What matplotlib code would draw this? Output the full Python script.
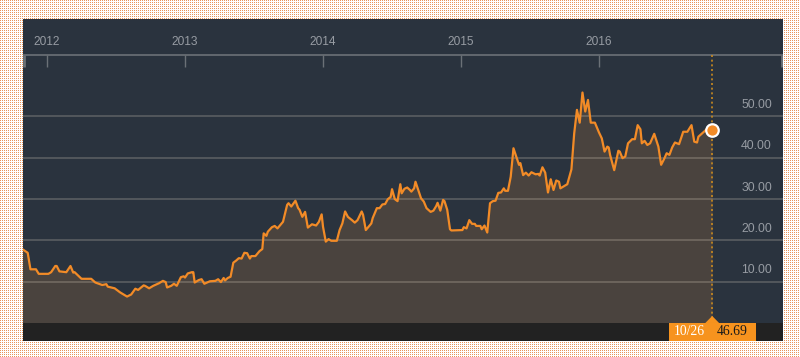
import numpy as np
import matplotlib
matplotlib.use("Agg")
import matplotlib.pyplot as plt
from matplotlib import transforms
from matplotlib.patches import Rectangle, Polygon

# ---- data (decimal years, price) ----
years = [2011.82, 2011.86, 2011.88, 2011.92, 2011.94, 2012.01, 2012.03, 2012.06, 2012.07, 2012.09,
         2012.14, 2012.17, 2012.19, 2012.20, 2012.25, 2012.31, 2012.32, 2012.35, 2012.40, 2012.43,
         2012.44, 2012.49, 2012.53, 2012.58, 2012.61, 2012.64, 2012.66, 2012.70, 2012.71, 2012.74,
         2012.77, 2012.81, 2012.84, 2012.86, 2012.87, 2012.90, 2012.92, 2012.94, 2012.97, 2012.99,
         2013.00, 2013.02, 2013.05, 2013.06, 2013.07, 2013.10, 2013.12, 2013.14, 2013.18, 2013.22,
         2013.24, 2013.26, 2013.28, 2013.29, 2013.31, 2013.33, 2013.35, 2013.37, 2013.39, 2013.41,
         2013.43, 2013.45, 2013.47, 2013.48, 2013.51, 2013.54, 2013.56, 2013.57, 2013.59, 2013.60,
         2013.63, 2013.65, 2013.67, 2013.71, 2013.74, 2013.75, 2013.77, 2013.80, 2013.82, 2013.83,
         2013.85, 2013.87, 2013.89, 2013.92, 2013.95, 2013.97, 2013.99, 2014.00, 2014.02, 2014.04,
         2014.06, 2014.10, 2014.12, 2014.14, 2014.16, 2014.18, 2014.21, 2014.23, 2014.25, 2014.28,
         2014.29, 2014.31, 2014.35, 2014.36, 2014.39, 2014.41, 2014.43, 2014.45, 2014.47, 2014.49,
         2014.50, 2014.52, 2014.54, 2014.56, 2014.57, 2014.59, 2014.61, 2014.63, 2014.64, 2014.66,
         2014.67, 2014.69, 2014.71, 2014.73, 2014.75, 2014.78, 2014.80, 2014.82, 2014.83, 2014.85,
         2014.87, 2014.88, 2014.90, 2014.92, 2014.93, 2015.01, 2015.02, 2015.04, 2015.06, 2015.08,
         2015.10, 2015.11, 2015.14, 2015.15, 2015.17, 2015.19, 2015.21, 2015.23, 2015.25, 2015.27,
         2015.29, 2015.31, 2015.32, 2015.34, 2015.36, 2015.38, 2015.40, 2015.42, 2015.43, 2015.45,
         2015.47, 2015.49, 2015.51, 2015.54, 2015.56, 2015.57, 2015.59, 2015.61, 2015.63, 2015.65,
         2015.67, 2015.69, 2015.71, 2015.72, 2015.75, 2015.77, 2015.80, 2015.82, 2015.84, 2015.86,
         2015.88, 2015.90, 2015.92, 2015.94, 2015.97, 2016.00, 2016.02, 2016.04, 2016.06, 2016.07,
         2016.08, 2016.11, 2016.14, 2016.15, 2016.17, 2016.19, 2016.21, 2016.24, 2016.26, 2016.28,
         2016.30, 2016.31, 2016.33, 2016.35, 2016.37, 2016.40, 2016.43, 2016.45, 2016.47, 2016.49,
         2016.51, 2016.53, 2016.55, 2016.58, 2016.61, 2016.64, 2016.67, 2016.69, 2016.71, 2016.72,
         2016.76, 2016.78, 2016.82]
prices = [17.9, 17.0, 13.0, 13.0, 11.9, 11.9, 12.3, 13.8, 13.8, 12.5,
          12.3, 13.8, 12.2, 12.3, 10.7, 10.7, 10.7, 9.8, 9.2, 9.4,
          8.8, 8.4, 7.4, 6.4, 6.9, 8.3, 8.0, 9.1, 9.0, 8.4,
          9.0, 9.6, 10.2, 9.9, 8.6, 9.0, 9.5, 9.0, 11.1, 11.3,
          11.0, 12.0, 12.3, 12.3, 9.8, 10.4, 10.6, 9.5, 10.1, 10.2,
          10.6, 9.9, 10.9, 10.3, 10.9, 11.2, 14.6, 15.1, 15.7, 15.6,
          17.0, 16.9, 15.6, 16.2, 16.2, 17.4, 17.9, 21.7, 21.1, 22.1,
          23.2, 23.5, 22.9, 24.5, 28.6, 29.0, 28.2, 29.6, 27.8, 27.4,
          25.7, 26.9, 23.1, 23.9, 23.6, 24.5, 26.3, 23.3, 19.7, 20.3,
          19.9, 19.9, 22.5, 24.1, 27.0, 25.7, 24.9, 24.3, 24.9, 27.0,
          26.2, 22.5, 24.1, 25.4, 27.8, 27.8, 28.7, 28.8, 30.0, 30.5,
          32.4, 30.0, 29.5, 33.6, 31.4, 32.5, 32.8, 32.2, 31.8, 32.6,
          34.2, 32.2, 30.2, 29.4, 27.8, 26.9, 27.2, 28.3, 29.1, 27.2,
          29.8, 29.5, 27.4, 22.7, 22.4, 22.5, 23.2, 22.9, 24.9, 24.0,
          24.0, 23.5, 23.5, 22.7, 23.6, 21.9, 29.0, 29.5, 29.6, 31.5,
          31.6, 32.6, 32.0, 32.0, 35.4, 42.3, 40.3, 38.3, 38.7, 35.8,
          36.4, 35.7, 36.5, 36.0, 36.1, 35.7, 37.7, 36.4, 31.6, 34.8,
          32.2, 34.5, 34.2, 32.6, 33.2, 33.6, 37.2, 45.9, 51.6, 48.5,
          55.8, 51.2, 54.0, 48.5, 48.5, 46.1, 44.7, 41.5, 42.7, 42.5,
          40.7, 37.0, 41.7, 41.5, 39.9, 40.3, 43.5, 44.5, 44.5, 47.9,
          46.9, 43.5, 44.1, 43.1, 43.5, 45.8, 42.7, 38.3, 39.6, 41.1,
          40.7, 42.5, 43.7, 43.3, 46.3, 46.3, 47.9, 43.9, 43.7, 45.1,
          46.3, 46.9, 46.69]
year_ticks = [2012, 2013, 2014, 2015, 2016]
year_labels = ["2012", "2013", "2014", "2015", "2016"]
y_ticks = [10, 20, 30, 40, 50]
y_labels = ["10.00", "20.00", "30.00", "40.00", "50.00"]
last_label = "10/26"
last_value_label = "46.69"

# ---- styling ----
W, H, DPI = 800, 357, 100
BG = "#2a333e"
FILL = "#4a433e"
LINE = "#f28b27"
ORANGE = "#f7931e"
STRIP = "#222222"
TXT = "#979ca3"

fig = plt.figure(figsize=(W / DPI, H / DPI), dpi=DPI)
fig.patch.set_facecolor("white")

# dotted orange background pattern
pat = np.ones((H, W, 3))
dot = np.array([0xe8, 0x95, 0x5c]) / 255.0
pat[::2, ::2] = dot
fig.figimage(pat, 0, 0, zorder=-5)

ax = fig.add_axes([23 / W, (H - 341) / H, 760 / W, 322 / H])
ax.set_zorder(5)
ax.set_facecolor(BG)
x0, x1 = 2011.826, 2017.333
y0, y1 = -4.36, 73.6
ax.set_xlim(x0, x1)
ax.set_ylim(y0, y1)
for s in ax.spines.values():
    s.set_visible(False)
ax.set_xticks([])
ax.set_yticks([])

xs = np.array(years)
ys = np.array(prices)

ax.fill_between(xs, 0, ys, color=FILL, zorder=1, linewidth=0)

# gridlines
for v in y_ticks:
    ax.axhline(v, color="#fff3e0", alpha=0.24, lw=1.1, zorder=2)

ax.plot(xs, ys, color=LINE, lw=1.6, zorder=4, solid_joinstyle="round")

# bottom dark strip
ax.add_patch(Rectangle((x0, y0), x1 - x0, -y0, color=STRIP, zorder=3, lw=0))

# top axis line and ticks
axis_y = 64.9
ax.axhline(axis_y, color="#6b7177", lw=1.2, zorder=2)
ax.vlines(year_ticks, axis_y - 2.9, axis_y, color="#6b7177", lw=1.0, zorder=2)
ax.vlines([x0 + 0.005, x1 - 0.005], axis_y - 2.9, axis_y, color="#6b7177", lw=2.0, zorder=2)
for yt, yl in zip(year_ticks, year_labels):
    ax.text(yt, 68.0, yl, color=TXT, fontsize=8.6, ha="center", va="center",
            family="Liberation Sans", zorder=5)

# right y labels
tr = transforms.blended_transform_factory(ax.transAxes, ax.transData)
for v, l in zip(y_ticks, y_labels):
    ax.text(0.9855, v + 2.8, l, transform=tr, color=TXT, fontsize=8.8,
            ha="right", va="center", family="Liberation Sans", zorder=5)

# last point marker and dotted line
lx, lv = xs[-1], ys[-1]
ax.vlines(lx, 0, axis_y, color="#c98a1f", lw=1.2, linestyles=(0, (1.2, 1.6)), zorder=3)
ax.plot([lx], [lv], "o", ms=9, color=LINE, mec="white", mew=1.6, zorder=6)

# label box
ax.add_patch(Rectangle((lx - 0.315, y0), 0.635, -y0, color=ORANGE, zorder=5, lw=0))
ax.add_patch(Polygon([[lx - 0.05, 0], [lx, 1.7], [lx + 0.05, 0]], closed=True,
                     color=ORANGE, zorder=5, lw=0))
ax.text(lx - 0.165, -2.15, last_label, color="white", fontsize=9.8, family="Liberation Serif",
        ha="center", va="center", zorder=6)
ax.text(lx + 0.145, -2.15, last_value_label, color="#1a1a1a", fontsize=9.8,
        family="Liberation Serif", ha="center", va="center", zorder=6)

fig.savefig("out.png", dpi=DPI, facecolor=fig.get_facecolor())
